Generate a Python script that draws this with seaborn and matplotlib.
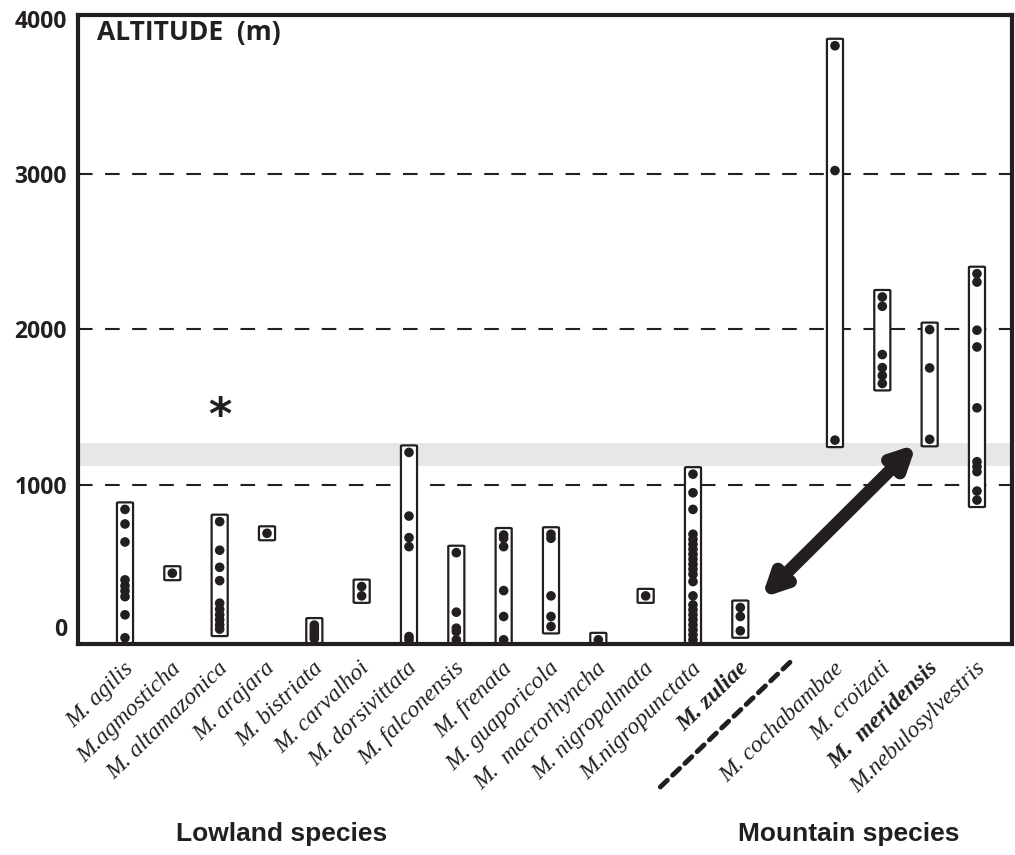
import numpy as np
import pandas as pd
import matplotlib
matplotlib.use('Agg')
import matplotlib.pyplot as plt
import seaborn as sns
from matplotlib.patches import FancyBboxPatch
from matplotlib.transforms import ScaledTranslation

# species names as printed under the axis
species = ['M. agilis', 'M.agmosticha', 'M. altamazonica', 'M. arajara', 'M. bistriata',
           'M. carvalhoi', 'M. dorsivittata', 'M. falconensis', 'M. frenata', 'M. guaporicola',
           'M.  macrorhyncha', 'M. nigropalmata', 'M.nigropunctata', 'M. zuliae',
           'M. cochabambae', 'M. croizati', 'M.  meridensis', 'M.nebulosylvestris']
bold_species = ['M. zuliae', 'M.  meridensis']
n_lowland = 14

# altitude records (m) per species
agilis = [840, 746, 630, 386, 347, 315, 278, 161, 13]
agmosticha = [429]
altamazonica = [761, 577, 467, 381, 236, 197, 161, 129, 96, 69]
arajara = [686]
bistriata = [95, 78, 60, 42, 25, 8]
carvalhoi = [343, 283]
dorsivittata = [1207, 797, 658, 600, 21, 0]
falconensis = [561, 178, 75, 54, 0]
frenata = [675, 654, 600, 317, 150, 0]
guaporicola = [680, 654, 283, 150, 86]
macrorhyncha = [0]
nigropalmata = [283]
nigropunctata = [1067, 947, 840, 680, 647, 615, 583, 551, 519, 487, 455, 422, 375,
                 283, 225, 193, 161, 129, 96, 64, 32, 0]
zuliae = [208, 150, 58]
cochabambae = [3826, 3022, 1286]
croizati = [2208, 2148, 1837, 1753, 1702, 1651]
meridensis = [1998, 1751, 1291]
nebulosylvestris = [2358, 2304, 1994, 1886, 1494, 1147, 1115, 1083, 958, 900]

altitudes = [agilis, agmosticha, altamazonica, arajara, bistriata, carvalhoi, dorsivittata,
             falconensis, frenata, guaporicola, macrorhyncha, nigropalmata, nigropunctata,
             zuliae, cochabambae, croizati, meridensis, nebulosylvestris]

ref_lines = [1000, 2000, 3000]
band = (1120, 1265)
y_ticks = [0, 1000, 2000, 3000, 4000]

# lowland columns, one empty slot, then mountain columns
x_pos = list(range(n_lowland)) + list(range(n_lowland + 1, len(species) + 1))

rows = []
for name, x, vals in zip(species, x_pos, altitudes):
    for v in vals:
        rows.append((name, x, v))
df = pd.DataFrame(rows, columns=['species', 'x', 'altitude'])

sns.set_style('white')
plt.rcParams['font.family'] = ['DejaVu Sans']

fig = plt.figure(figsize=(10.15, 8.55), dpi=100)
ax = fig.add_axes([78 / 1015, 1 - 644 / 855, 934 / 1015, 629 / 855])

ax.axhspan(band[0], band[1], color='#e6e7e8', lw=0, zorder=0)
for y in ref_lines:
    ax.axhline(y, color='#231f20', lw=1.5, dashes=(7, 6), zorder=1)

# boxes around each species' range
pad = 45
bw = 0.34
for x, vals in zip(x_pos, altitudes):
    lo, hi = min(vals) - pad, max(vals) + pad
    ax.add_patch(FancyBboxPatch((x - bw / 2, lo), bw, hi - lo,
                                boxstyle='round,pad=0,rounding_size=0.04',
                                mutation_aspect=120,
                                fc='white', ec='#231f20', lw=1.6, zorder=2))

sns.scatterplot(data=df, x='x', y='altitude', ax=ax, color='#231f20', s=48,
                edgecolor='none', zorder=3, legend=False)

ax.set_xlim(-0.993, 18.74)
ax.set_ylim(-27, 4024)
for s in ax.spines.values():
    s.set_linewidth(3)
    s.set_color('#231f20')

ax.set_yticks(y_ticks, [str(v) for v in y_ticks])
ax.tick_params(axis='y', length=0, pad=8)
for lbl in ax.get_yticklabels():
    lbl.set_fontfamily('Open Sans')
    lbl.set_fontweight('bold')
    lbl.set_fontsize(16.5)
    lbl.set_color('#231f20')
zero_lbl = ax.get_yticklabels()[0]
zero_lbl.set_transform(zero_lbl.get_transform() + ScaledTranslation(0, 13 / 100, fig.dpi_scale_trans))

ax.set_xticks(x_pos, species)
ax.tick_params(axis='x', length=0, pad=10)
for lbl in ax.get_xticklabels():
    lbl.set_rotation(44)
    lbl.set_rotation_mode('anchor')
    lbl.set_ha('right')
    lbl.set_va('top')
    lbl.set_fontfamily('Liberation Serif')
    lbl.set_fontstyle('italic')
    lbl.set_fontsize(17)
    lbl.set_color('#231f20')
    if lbl.get_text() in bold_species:
        lbl.set_fontweight('bold')
    lbl.set_transform(lbl.get_transform() + ScaledTranslation(-2 / 100, 0, fig.dpi_scale_trans))

ax.set_xlabel('')
ax.set_ylabel('')

ax.text(0.0203, 0.960, 'ALTITUDE  (m)', transform=ax.transAxes, fontfamily='Open Sans',
        fontweight='bold', fontsize=19, color='#231f20', va='baseline')

ax.text(2, 1440, '*', ha='center', va='center', fontsize=32, fontweight='bold', color='#231f20')

ax.annotate('', xy=(13.45, 270), xytext=(16.72, 1260),
            arrowprops=dict(arrowstyle='<|-|>,head_length=1.3,head_width=0.65',
                            color='#231f20', lw=9, shrinkA=0, shrinkB=0), zorder=4)

ax.plot([11.31, 14.12], [-948, -124], color='#231f20', lw=3.5, dashes=(2, 1.5),
        solid_capstyle='round', dash_capstyle='round', clip_on=False)

fig.text(282 / 1015, 1 - 834 / 855, 'Lowland species', ha='center', va='center',
         fontfamily=['Liberation Sans Narrow', 'Liberation Sans'], fontweight='bold',
         fontsize=19, color='#231f20')
fig.text(849 / 1015, 1 - 834 / 855, 'Mountain species', ha='center', va='center',
         fontfamily=['Liberation Sans Narrow', 'Liberation Sans'], fontweight='bold',
         fontsize=19, color='#231f20')

fig.savefig('out.png', dpi=100)
